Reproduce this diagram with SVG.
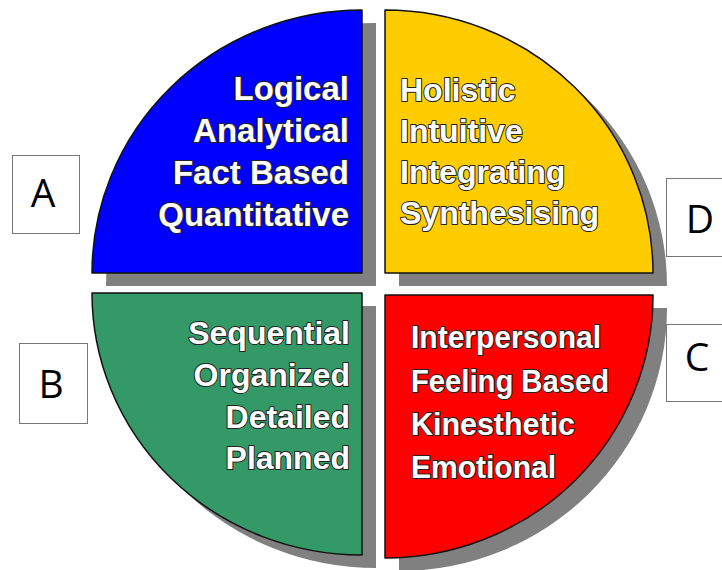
<svg xmlns="http://www.w3.org/2000/svg" width="722" height="570" viewBox="0 0 722 570">
  <style>
    .shadow { fill: #808080; }
    .sector { stroke: #111; stroke-width: 1.5; stroke-linejoin: round; }
    .label { font-family: "Liberation Sans", Arial, sans-serif; font-weight: bold; font-size: 32px;
             fill: #fff; stroke: #222; stroke-width: 2; stroke-linejoin: round; paint-order: stroke; }
    .box { fill: #fff; stroke: #777; stroke-width: 1; }
    .letter { font-family: "Open Sans", "Noto Sans", sans-serif; font-size: 39px; fill: #000; text-anchor: middle; }
  </style>

  <!-- drop shadows behind the four quadrants -->
  <g id="shadows" transform="translate(14,13)">
    <path class="shadow" d="M362,273 L92,273 A270,263 0 0 1 362,10 Z"/>
    <path class="shadow" d="M385,273 L385,10 A268,263 0 0 1 653,273 Z"/>
    <path class="shadow" d="M362,293 L362,555 A270,262 0 0 1 92,293 Z"/>
    <path class="shadow" d="M385,295 L653,295 A268,263 0 0 1 385,558 Z"/>
  </g>

  <!-- quadrant A: blue -->
  <g id="quadrant-a">
    <path class="sector" fill="#0000FF" d="M362,273 L92,273 A270,263 0 0 1 362,10 Z"/>
    <g class="label" text-anchor="end" style="font-size:33px">
      <text x="349" y="100">Logical</text>
      <text x="349" y="142">Analytical</text>
      <text x="349" y="184">Fact Based</text>
      <text x="349" y="226">Quantitative</text>
    </g>
  </g>

  <!-- quadrant D: yellow -->
  <g id="quadrant-d">
    <path class="sector" fill="#FFCC00" d="M385,273 L385,10 A268,263 0 0 1 653,273 Z"/>
    <g class="label">
      <text x="400" y="101">Holistic</text>
      <text x="400" y="142">Intuitive</text>
      <text x="400" y="183">Integrating</text>
      <text x="400" y="224">Synthesising</text>
    </g>
  </g>

  <!-- quadrant B: green -->
  <g id="quadrant-b">
    <path class="sector" fill="#339966" d="M362,293 L362,555 A270,262 0 0 1 92,293 Z"/>
    <g class="label" text-anchor="end">
      <text x="350" y="344">Sequential</text>
      <text x="350" y="386">Organized</text>
      <text x="350" y="428">Detailed</text>
      <text x="350" y="469">Planned</text>
    </g>
  </g>

  <!-- quadrant C: red -->
  <g id="quadrant-c">
    <path class="sector" fill="#FF0000" d="M385,295 L653,295 A268,263 0 0 1 385,558 Z"/>
    <g class="label">
      <text x="411" y="348" textLength="190" lengthAdjust="spacingAndGlyphs">Interpersonal</text>
      <text x="411" y="392" textLength="198" lengthAdjust="spacingAndGlyphs">Feeling Based</text>
      <text x="411" y="435" textLength="164" lengthAdjust="spacingAndGlyphs">Kinesthetic</text>
      <text x="411" y="478" textLength="145" lengthAdjust="spacingAndGlyphs">Emotional</text>
    </g>
  </g>

  <!-- letter tags -->
  <g id="tag-a">
    <rect class="box" x="12.5" y="155.5" width="67" height="78"/>
    <text class="letter" x="43" y="207">A</text>
  </g>
  <g id="tag-b">
    <rect class="box" x="19.5" y="343.5" width="68" height="80"/>
    <text class="letter" x="51" y="398">B</text>
  </g>
  <g id="tag-d">
    <rect class="box" x="666.5" y="178.5" width="70" height="78"/>
    <text class="letter" x="700" y="233">D</text>
  </g>
  <g id="tag-c">
    <rect class="box" x="666.5" y="324.5" width="70" height="77"/>
    <text class="letter" x="697" y="371">C</text>
  </g>
</svg>
